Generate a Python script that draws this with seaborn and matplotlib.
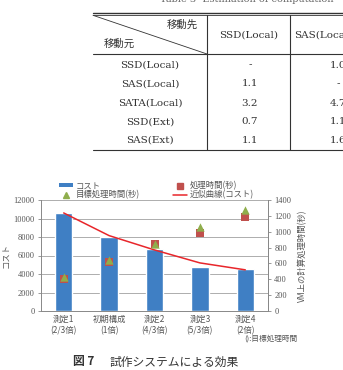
import matplotlib
matplotlib.use("Agg")
import matplotlib.pyplot as plt
from matplotlib.lines import Line2D
from matplotlib.patches import Patch
import pandas as pd
import seaborn as sns

# Table 3 (partly cut off on the right)
TABLE_SRC = ["SSD(Local)", "SAS(Local)", "SATA(Local)", "SSD(Ext)", "SAS(Ext)"]
TABLE_TO_SSD_LOCAL = ["-", "1.1", "3.2", "0.7", "1.1"]
TABLE_TO_SAS_LOCAL = ["1.0", "-", "4.7", "1.1", "1.6"]

# Fig. 7
CATEGORIES = ["測定1\n(2/3倍)", "初期構成\n(1倍)", "測定2\n(4/3倍)", "測定3\n(5/3倍)", "測定4\n(2倍)"]
COST = [10600, 8000, 6750, 4800, 4500]
COST_TREND = [10600, 8150, 6600, 5200, 4450]
PROC_TIME = [400, 620, 840, 990, 1190]
TARGET_TIME = [425, 640, 850, 1065, 1275]

BLUE = "#3f7fc4"
RED = "#c0504d"
GREEN = "#8fae4c"
INK = "#333333"
AXIS_INK = "#555555"

W, H = 343, 370


def fx(x):
    return x / W


def fy(y):
    return 1 - y / H


sns.set_theme(style="white")
plt.rcParams["font.family"] = ["Noto Sans CJK JP", "DejaVu Sans"]

fig = plt.figure(figsize=(W / 100, H / 100), dpi=100)
fig.patch.set_facecolor("white")

# ---- table ----
serif = ["DejaVu Serif", "Noto Sans CJK JP"]
fig.text(fx(160), fy(-1), "Table 3  Estimation of computation", family=serif,
         fontsize=7, color="#666666", va="center")


def hline(y, x0=93, x1=343, lw=0.8):
    fig.add_artist(Line2D([fx(x0), fx(x1)], [fy(y), fy(y)], color=INK, lw=lw))


def vline(x, y0, y1, lw=0.8):
    fig.add_artist(Line2D([fx(x), fx(x)], [fy(y0), fy(y1)], color=INK, lw=lw))


hline(12.8, lw=1.0)
hline(15.3, lw=0.6)
hline(54)
hline(150)
vline(207, 15.3, 150)
vline(290, 15.3, 150)
fig.add_artist(Line2D([fx(93), fx(207)], [fy(15.3), fy(54)], color=INK, lw=0.6))

fig.text(fx(182), fy(25), "移動先", fontsize=7.5, color=INK, ha="center", va="center")
fig.text(fx(119), fy(44), "移動元", fontsize=7.5, color=INK, ha="center", va="center")
fig.text(fx(249), fy(35), "SSD(Local)", family=serif, fontsize=7.5, color=INK, ha="center", va="center")
fig.text(fx(294), fy(35), "SAS(Local)", family=serif, fontsize=7.5, color=INK, ha="left", va="center")

row_y = [65, 84, 103, 122, 140.5]
for y, src, a, b in zip(row_y, TABLE_SRC, TABLE_TO_SSD_LOCAL, TABLE_TO_SAS_LOCAL):
    fig.text(fx(150), fy(y), src, family=serif, fontsize=7.5, color=INK, ha="center", va="center")
    fig.text(fx(250), fy(y), a, family=serif, fontsize=7.5, color=INK, ha="center", va="center")
    fig.text(fx(338), fy(y), b, family=serif, fontsize=7.5, color=INK, ha="center", va="center")

# ---- chart ----
df = pd.DataFrame({
    "cat": CATEGORIES,
    "pos": range(len(CATEGORIES)),
    "cost": COST,
    "trend": COST_TREND,
    "proc": PROC_TIME,
    "target": TARGET_TIME,
})

num_font = ["Liberation Serif", "DejaVu Serif"]

ax = fig.add_axes([fx(41), fy(311), fx(268) - fx(41), (311 - 200) / H])
sns.barplot(data=df, x="cat", y="cost", color=BLUE, saturation=1, width=0.38, ax=ax, zorder=2)
sns.lineplot(data=df, x="pos", y="trend", color="#e8262b", lw=1.1, ax=ax, zorder=3)
ax.set_xlim(-0.5, 4.5)
ax.set_ylim(0, 12000)
ax.set_yticks(range(0, 12001, 2000))
ax.yaxis.grid(True, color="#a0a0a0", lw=0.6)
ax.set_axisbelow(True)
ax.set_xlabel("")
ax.set_ylabel("コスト", fontsize=6, color=AXIS_INK, labelpad=2)
ax.tick_params(axis="y", length=2.5, width=0.6, labelsize=6, labelcolor=AXIS_INK, color="#888888", pad=2)
ax.tick_params(axis="x", length=0, labelsize=6, labelcolor=AXIS_INK, pad=3)
ax.set_xticks(range(len(CATEGORIES)))
ax.set_xticklabels(CATEGORIES, linespacing=1.3)
for lab in ax.get_yticklabels():
    lab.set_family(num_font)
ax.spines["top"].set_visible(False)
for side in ["left", "bottom", "right"]:
    ax.spines[side].set_color("#888888")
    ax.spines[side].set_linewidth(0.7)

ax2 = ax.twinx()
sns.scatterplot(data=df, x="pos", y="proc", marker="s", color=RED, s=30, linewidth=0, ax=ax2, zorder=4)
sns.scatterplot(data=df, x="pos", y="target", marker="^", color=GREEN, s=36, linewidth=0, ax=ax2, zorder=5)
ax2.set_ylim(0, 1400)
ax2.set_yticks(range(0, 1401, 200))
ax2.set_xlim(-0.5, 4.5)
ax2.set_ylabel("VM上の計算処理時間(秒)", fontsize=6, color=AXIS_INK, rotation=90, labelpad=5)
ax2.tick_params(axis="y", length=2.5, width=0.6, labelsize=6, labelcolor=AXIS_INK, color="#888888", pad=2)
for lab in ax2.get_yticklabels():
    lab.set_family(num_font)
ax2.grid(False)
for side in ["top", "left", "bottom"]:
    ax2.spines[side].set_visible(False)
ax2.spines["right"].set_color("#888888")
ax2.spines["right"].set_linewidth(0.7)

handles = [
    Patch(facecolor=BLUE, edgecolor="none"),
    Line2D([], [], marker="^", color=GREEN, ls="none", markersize=4.5),
    Line2D([], [], marker="s", color=RED, ls="none", markersize=4.5),
    Line2D([], [], color="#e8262b", lw=1.1),
]
labels = ["コスト", "目標処理時間(秒)", "処理時間(秒)", "近似曲線(コスト)"]
fig.legend(handles, labels, loc="upper left", bbox_to_anchor=(fx(55), fy(177)), ncol=2,
           frameon=False, fontsize=6, labelcolor=AXIS_INK, columnspacing=4.0,
           handlelength=1.6, handleheight=0.4, handletextpad=0.4, labelspacing=0.0, borderpad=0)

fig.text(fx(297), fy(339), "():目標処理時間", fontsize=5.5, color=AXIS_INK, ha="right", va="center")

fig.text(fx(73), fy(362), "図 7", fontsize=8.5, color=INK, weight="bold", va="center")
fig.text(fx(110), fy(362), "試作システムによる効果", fontsize=8.5, color=INK, va="center")

fig.savefig("out.png", dpi=100, facecolor="white")
